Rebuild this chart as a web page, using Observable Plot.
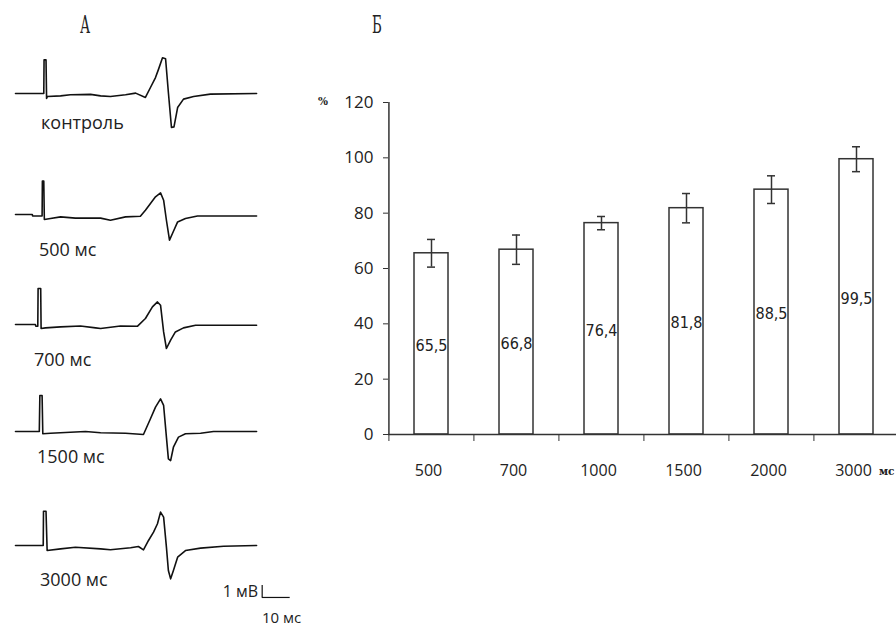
<!DOCTYPE html>
<html>
<head>
<meta charset="utf-8">
<script src="https://cdn.jsdelivr.net/npm/d3@7"></script>
<script src="https://cdn.jsdelivr.net/npm/@observablehq/plot@0.6"></script>
<style>
  html, body { margin: 0; padding: 0; background: #fff; }
  body { width: 896px; height: 629px; position: relative; overflow: hidden; font-family: "Open Sans", sans-serif; color: #222; }
  .lbl { position: absolute; transform: translateY(-50%); white-space: nowrap; font-size: 18px; font-family: "Open Sans", sans-serif; color: #222; line-height: 1.2; }
  .title { position: absolute; font-family: "DejaVu Serif Condensed", "DejaVu Serif", serif; font-size: 24px; transform: translate(-50%, -50%) scaleX(0.62); color: #222; }
  .unit { position: absolute; font-family: "DejaVu Serif", serif; font-weight: bold; font-size: 10.5px; transform: translateY(-50%); color: #222; white-space: nowrap; }
</style>
</head>
<body>
<script>
// ---------- Panel Б data ----------
const intervals = ["500", "700", "1000", "1500", "2000", "3000"];
const amplitudes = [65.5, 66.8, 76.4, 81.8, 88.5, 99.5];
const errors = [5.0, 5.3, 2.4, 5.3, 5.0, 4.5];
const valueLabels = ["65,5", "66,8", "76,4", "81,8", "88,5", "99,5"];
const yTicks = [0, 20, 40, 60, 80, 100, 120];

// ---------- Panel A data (time, ms; potential, mV) ----------
const traceLabels = ["контроль", "500 мс", "700 мс", "1500 мс", "3000 мс"];

const controlTime = [0, 10.1, 10.2, 10.9, 11.1, 11.4, 16.1, 19.6, 26.8, 30.4, 33.9, 39.3, 42.9, 46.4, 48.2, 50.0, 51.1, 52.5, 53.6, 54.6, 55.7, 56.6, 57.9, 60.0, 63.6, 69.6, 86.1];
const controlMv   = [0, 0, 2.8, 2.8, -0.42, -0.25, -0.2, -0.1, -0.07, -0.2, -0.25, -0.1, 0.03, -0.33, 0.5, 1.33, 2.03, 2.98, 2.9, 0.08, -2.83, -2.78, -1.17, -0.47, -0.25, -0.05, 0];

const t500Time = [0, 6.0, 6.1, 9.5, 9.6, 10.1, 10.3, 12.5, 16.1, 21.4, 30.4, 33.9, 39.3, 44.6, 46.4, 48.2, 50.0, 51.8, 52.9, 53.9, 55.0, 56.1, 57.9, 60.7, 65.0, 86.1];
const t500Mv   = [0, 0, -0.12, -0.12, 2.78, 2.78, -0.42, -0.33, -0.2, -0.3, -0.3, -0.48, -0.2, -0.14, 0.36, 0.92, 1.47, 1.8, 1.19, -0.48, -2.14, -1.56, -0.62, -0.33, -0.12, -0.12];

const t700Time = [0, 7.1, 7.25, 7.96, 8.07, 9.0, 9.14, 10.7, 16.1, 23.2, 28.6, 30.4, 37.5, 43.6, 46.4, 48.9, 50.7, 51.8, 52.9, 53.9, 55.4, 57.1, 60.0, 64.3, 86.1];
const t700Mv   = [0, 0, -0.14, -0.14, 3.0, 3.0, -0.33, -0.28, -0.2, -0.12, -0.28, -0.33, -0.12, -0.14, 0.5, 1.47, 1.88, 1.61, -0.62, -2.0, -1.31, -0.62, -0.28, -0.06, -0.06];

const t1500Time = [0, 7.75, 8.5, 8.7, 9.5, 9.75, 12.5, 19.6, 25.0, 30.4, 39.3, 45.7, 48.2, 50.0, 51.8, 52.9, 53.9, 54.6, 55.4, 56.4, 58.2, 60.7, 66.1, 70.7, 86.1];
const t1500Mv   = [0, 0, 0, 3.0, 3.0, -0.19, -0.14, -0.06, 0, -0.11, -0.14, -0.25, 1.06, 2.03, 2.72, 2.17, -0.47, -2.28, -2.42, -1.31, -0.47, -0.19, -0.14, 0, 0];

const t3000Time = [0, 9.9, 10.0, 10.9, 11.3, 16.1, 21.4, 30.4, 33.9, 41.1, 43.9, 45.7, 47.5, 49.3, 50.7, 51.8, 52.9, 53.9, 54.6, 55.4, 56.4, 57.9, 60.7, 66.1, 74.3, 86.1];
const t3000Mv   = [0, 0, 2.86, 2.86, -0.42, -0.28, -0.14, -0.28, -0.36, -0.19, -0.08, -0.36, 0.42, 1.11, 1.81, 2.78, 2.36, -0.14, -2.08, -2.78, -2.08, -0.97, -0.42, -0.22, -0.06, 0];

// scale bar (10 ms, 1 mV)
const scaleBarMs = 10;
const scaleBarMv = 1;
const scaleBarLabels = ["1 мВ", "10 мс"];

// ---------- Layout ----------
const traceTimes = [controlTime, t500Time, t700Time, t1500Time, t3000Time];
const traceMvs = [controlMv, t500Mv, t700Mv, t1500Mv, t3000Mv];
const traceLayout = [
  {top: 32.7, labelLeft: 41, labelY: 123},
  {top: 154.3, labelLeft: 39, labelY: 250},
  {top: 264.3, labelLeft: 34, labelY: 360},
  {top: 371, labelLeft: 37, labelY: 457},
  {top: 485, labelLeft: 40, labelY: 580}
];

function place(el, left, top) {
  el.style.position = "absolute";
  el.style.left = left + "px";
  el.style.top = top + "px";
  document.body.appendChild(el);
}
function addText(cls, text, left, top) {
  const d = document.createElement("div");
  d.className = cls;
  d.textContent = text;
  d.style.left = left + "px";
  d.style.top = top + "px";
  document.body.appendChild(d);
  return d;
}

// Titles
addText("title", "А", 85, 25);
addText("title", "Б", 377, 25);

// ---------- Panel A ----------
traceTimes.forEach((times, i) => {
  const data = times.map((t, j) => ({t, v: traceMvs[i][j]}));
  const marks = [
    Plot.line(data, {x: "t", y: "v", stroke: "#111", strokeWidth: 1.6, curve: "linear"})
  ];
  if (i === traceTimes.length - 1) {
    const t0 = d3.max(times) + 2;          // scale bar starts just right of the trace
    const v0 = d3.min(traceMvs[i]) - 1.55; // and sits below its trough
    marks.push(
      Plot.ruleX([t0], {y1: v0, y2: v0 + scaleBarMv, stroke: "#111", strokeWidth: 1.2}),
      Plot.ruleY([v0], {x1: t0, x2: t0 + scaleBarMs, stroke: "#111", strokeWidth: 1.2})
    );
  }
  const p = Plot.plot({
    width: 300, height: 120,
    marginLeft: 15, marginRight: 5, marginTop: 0, marginBottom: 0,
    x: {domain: [0, 100], axis: null},
    y: {domain: [-5, 5], axis: null},
    marks
  });
  place(p, 0, traceLayout[i].top);
  addText("lbl", traceLabels[i], traceLayout[i].labelLeft, traceLayout[i].labelY);
});

// scale bar labels
{
  const a = addText("lbl", scaleBarLabels[0], 0, 592);
  a.style.left = "auto"; a.style.right = (896 - 258) + "px"; a.style.fontSize = "16px";
  const b = addText("lbl", scaleBarLabels[1], 262, 617);
  b.style.fontSize = "15px";
}

// ---------- Panel Б ----------
const bars = intervals.map((interval, i) => ({
  interval, value: amplitudes[i], err: errors[i], label: valueLabels[i]
}));
const W = 610, ML = 88, MR = 11;
const step = (W - ML - MR) / intervals.length;

const chart = Plot.plot({
  width: W, height: 420,
  marginLeft: ML, marginRight: MR, marginTop: 22, marginBottom: 66,
  style: {fontFamily: "'Open Sans', sans-serif", fontSize: "16px", color: "#222", background: "transparent", overflow: "visible"},
  x: {domain: intervals, paddingInner: 0.6, paddingOuter: 0.3},
  y: {domain: [0, 120]},
  marks: [
    Plot.barY(bars, {x: "interval", y: "value", fill: "white", stroke: "#333", strokeWidth: 1.5}),
    Plot.ruleX(bars, {x: "interval", y1: d => d.value - d.err, y2: d => d.value + d.err, stroke: "#333", strokeWidth: 1.5}),
    Plot.tickY(bars, {x: "interval", y: d => d.value + d.err, stroke: "#333", strokeWidth: 1.5, insetLeft: 13, insetRight: 13}),
    Plot.tickY(bars, {x: "interval", y: d => d.value - d.err, stroke: "#333", strokeWidth: 1.5, insetLeft: 13, insetRight: 13}),
    Plot.text(bars, {x: "interval", y: d => d.value / 2, text: "label", dy: 2, fontSize: 16, fill: "#222", fontFamily: "'DejaVu Sans Condensed', sans-serif"}),
    Plot.axisY(yTicks, {tickSize: 5, tickPadding: 10, stroke: "#333", fontSize: 17, fill: "#222", label: null}),
    Plot.axisX({tickSize: 0, tickPadding: 30, fontSize: 16, fill: "#222", label: null, dx: -3}),
    Plot.axisX({tickSize: 7, tickFormat: () => "", dx: -step / 2, stroke: "#333", label: null}),
    Plot.ruleY([0], {stroke: "#333", strokeWidth: 1.5}),
    Plot.ruleX([intervals[0]], {dx: -step / 2, y1: 0, y2: 120, stroke: "#333", strokeWidth: 1.5})
  ]
});
place(chart, 300, 80);

addText("unit", "%", 318, 101);
addText("unit", "мс", 879, 471);
</script>
</body>
</html>
